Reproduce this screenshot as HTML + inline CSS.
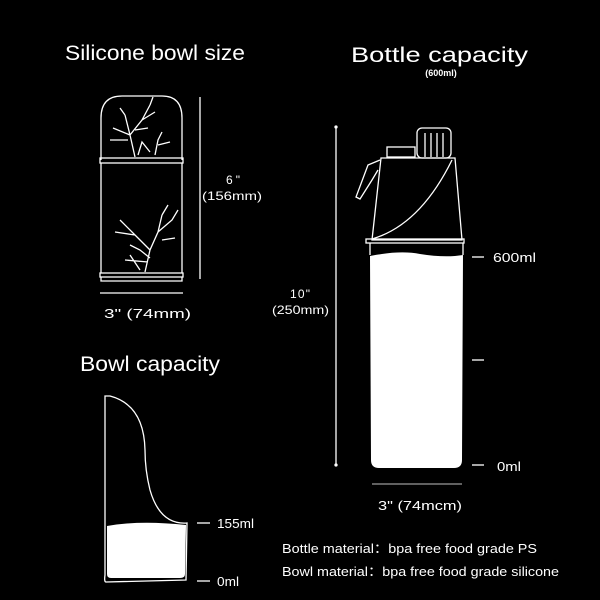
<!DOCTYPE html>
<html><head><style>
html,body{margin:0;background:#000;}
svg{display:block}
text{font-family:"Liberation Sans","Noto Sans CJK SC",sans-serif;fill:#fff}
</style></head><body>
<svg width="600" height="600" viewBox="0 0 600 600" xmlns="http://www.w3.org/2000/svg">
<rect width="600" height="600" fill="#000"/>
<text x="65" y="60" font-size="21" textLength="180" lengthAdjust="spacingAndGlyphs">Silicone bowl size</text>
<text x="351" y="62" font-size="21" textLength="177" lengthAdjust="spacingAndGlyphs">Bottle capacity</text>
<text x="441" y="76" font-size="9" font-weight="bold" text-anchor="middle">(600ml)</text>
<text x="80" y="371" font-size="21" textLength="140" lengthAdjust="spacingAndGlyphs">Bowl capacity</text>

<g stroke="#fff" fill="none" stroke-width="1.3">
<path d="M101,160 L101,118 Q101,96 122,96 L162,96 Q182,96 182,118 L182,160"/>
<rect x="100" y="158" width="83" height="5"/>
<path d="M101,163 L101,273 M182,163 L182,273"/>
<rect x="100" y="273" width="83" height="4"/>
<path d="M101,277 L101,281 L182,281 L182,277"/>
<line x1="200" y1="97" x2="200" y2="279"/>
<line x1="100" y1="293" x2="183" y2="293"/>
<path d="M135,157 L130,135 L125,115 M130,135 L142,120 L150,105 M142,120 L155,112 M130,135 L113,128 M128,140 L110,140 M138,155 L142,142 L150,152 M155,155 L158,140 L162,132 M158,145 L170,142"/>
<path d="M125,115 L120,108 M150,105 L153,97 M135,130 L148,128"/>
<path d="M145,272 L150,250 L158,232 L162,215 M150,250 L135,235 L120,220 M135,235 L115,232 M158,232 L172,220 L178,210 M162,215 L168,205 M150,258 L140,250 L130,245 M148,262 L125,260 M162,240 L175,238 M140,270 L130,255"/>
</g>
<text x="226" y="184" font-size="12" textLength="14">6"</text>
<text x="202" y="200" font-size="12" textLength="60" lengthAdjust="spacingAndGlyphs">(156mm)</text>
<text x="104" y="318" font-size="13" textLength="87" lengthAdjust="spacingAndGlyphs">3"  (74mm)</text>

<g stroke="#fff" fill="none" stroke-width="1.3">
<line x1="336" y1="127" x2="336" y2="465"/>
<circle cx="336" cy="127" r="1" fill="#fff"/>
<circle cx="336" cy="465" r="1" fill="#fff"/>
<rect x="417" y="128" width="34" height="30" rx="5"/>
<path d="M425,133 V157 M431,133 V157 M437,133 V157 M443,133 V157"/>
<rect x="387" y="147" width="28" height="10"/>
<path d="M381,158 L455,158 L462,240 L372,240 Z"/>
<path d="M372,239 Q420,225 452,160"/>
<path d="M380,160 L368,165 L356,197 L360,199 L372,180 L378,170"/>
<rect x="366" y="239" width="98" height="4"/>
<path d="M370,243 L370,255 M463,243 L463,255"/>
<line x1="472" y1="257" x2="484" y2="257"/>
<line x1="472" y1="360" x2="484" y2="360"/>
<line x1="472" y1="465" x2="484" y2="465"/>
<line x1="372" y1="484" x2="462" y2="484" stroke-width="0.8"/>
</g>
<path d="M370,256 Q400,250 420,254 Q445,258 463,255 L462,460 Q462,468 454,468 L379,468 Q371,468 371,460 Z" fill="#fff"/>
<text x="290" y="298" font-size="12" textLength="20">10"</text>
<text x="272" y="314" font-size="12" textLength="57" lengthAdjust="spacingAndGlyphs">(250mm)</text>
<text x="493" y="262" font-size="13" textLength="43" lengthAdjust="spacingAndGlyphs">600ml</text>
<text x="497" y="471" font-size="13" textLength="24" lengthAdjust="spacingAndGlyphs">0ml</text>
<text x="378" y="510" font-size="13" textLength="84" lengthAdjust="spacingAndGlyphs">3"  (74mcm)</text>

<g stroke="#fff" fill="none" stroke-width="1.3">
<path d="M105,396 L105,575 Q104,582 106,582 L186,580 L187,523 Q160,525 150,490 Q145,470 145,450 Q144,405 110,396 Z"/>
<line x1="197" y1="523" x2="210" y2="523"/>
<line x1="197" y1="581" x2="210" y2="581"/>
</g>
<path d="M107,526 Q140,520 186,525 L185,574 Q185,578 180,578 L111,578 Q107,578 107,574 Z" fill="#fff"/>
<text x="217" y="528" font-size="13" textLength="37" lengthAdjust="spacingAndGlyphs">155ml</text>
<text x="217" y="586" font-size="13" textLength="22" lengthAdjust="spacingAndGlyphs">0ml</text>

<text x="282" y="553" font-size="13" textLength="255" lengthAdjust="spacingAndGlyphs">Bottle material：bpa free food grade PS</text>
<text x="282" y="576" font-size="13" textLength="277" lengthAdjust="spacingAndGlyphs">Bowl material：bpa free food grade silicone</text>
</svg>
</body></html>
